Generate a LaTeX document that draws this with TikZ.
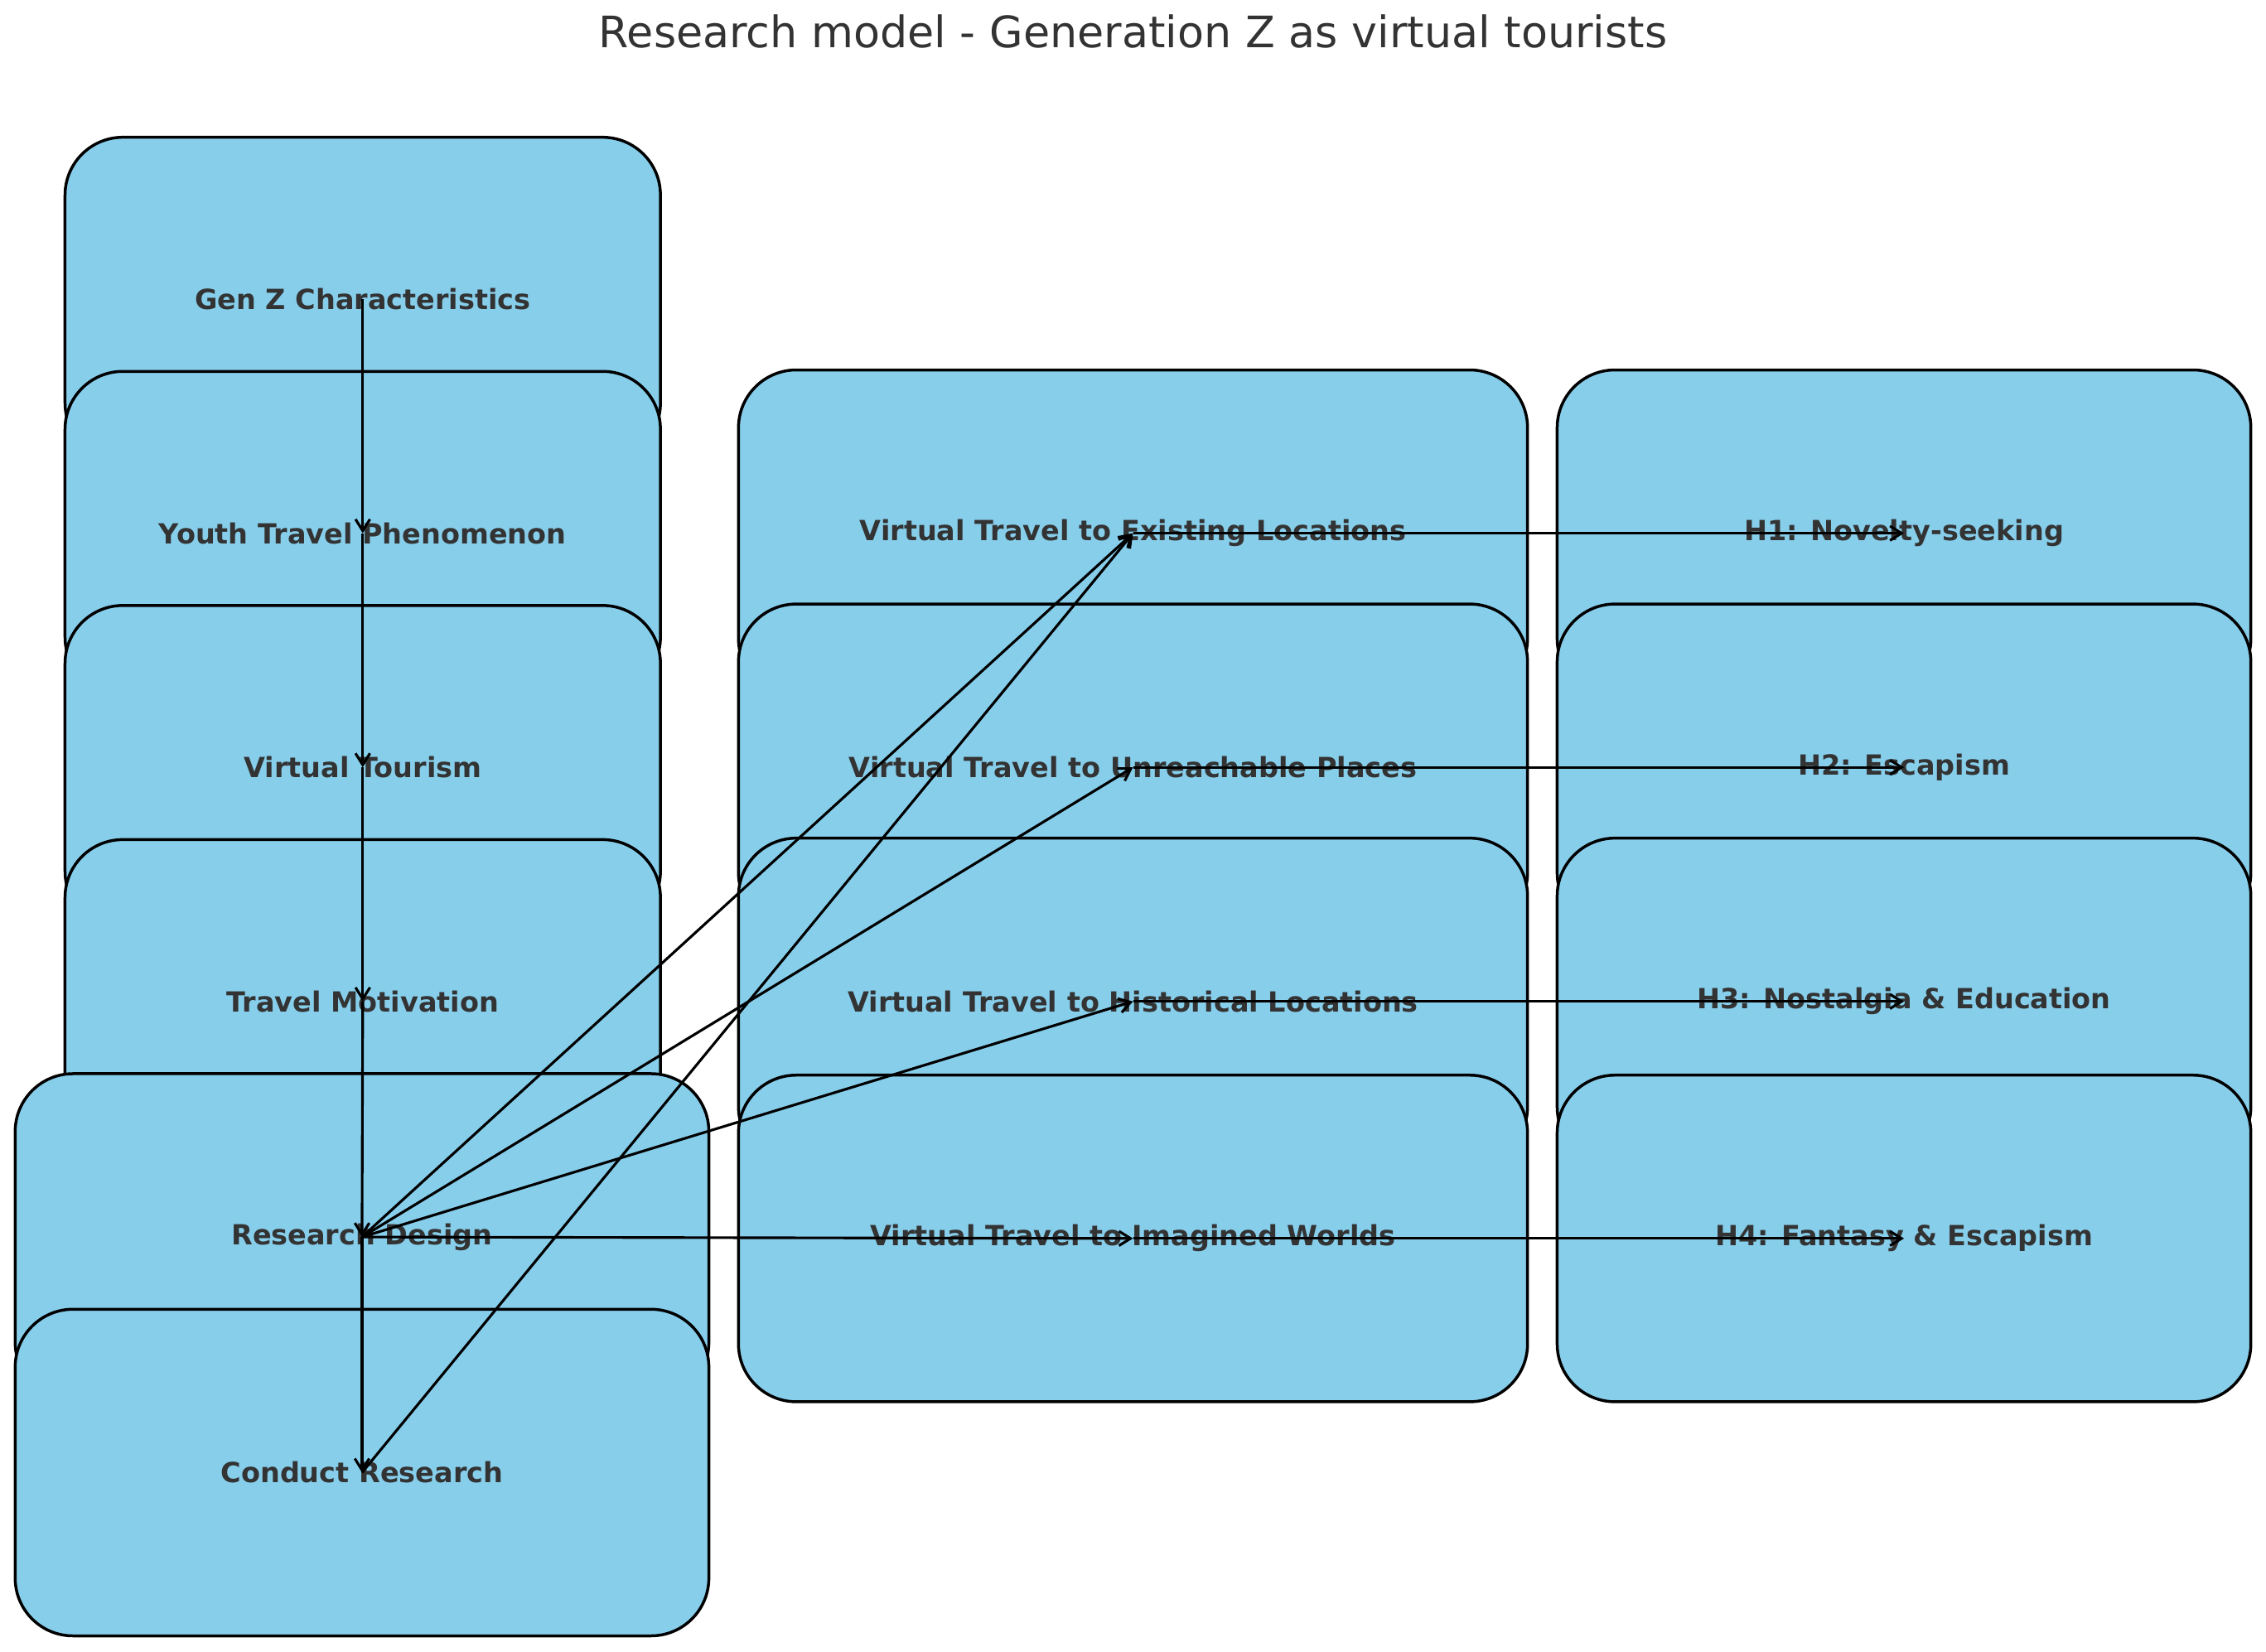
\documentclass[tikz,border=0pt]{standalone}
\usepackage{fontspec}
\setmainfont{DejaVu Sans}
\usetikzlibrary{arrows.meta}
\definecolor{sky}{HTML}{87CEEB}
\definecolor{txt}{HTML}{333333}
\begin{document}
\begin{tikzpicture}[x=0.5pt,y=-0.5pt,
  box/.style={draw=black,line width=1pt,fill=sky,rounded corners=20pt,inner sep=0pt,
    text=txt,font=\bfseries\fontsize{9.6}{11}\selectfont},
  narrow/.style={box,minimum width=206pt,minimum height=112pt},
  wide/.style={box,minimum width=240pt,minimum height=113pt},
  mid/.style={box,minimum width=273pt,minimum height=113pt},
  arr/.style={-{Straight Barb[length=4pt,width=5pt]},line width=0.9pt,black}]
\useasboundingbox (0,0) rectangle (1568,1143);
\node[text=txt,font=\fontsize{15}{18}\selectfont] (title) at (784,22) {Research model - Generation Z as virtual tourists};
\node[narrow] (g) at (251,207) {Gen Z Characteristics};
\node[narrow] (y) at (251,369) {Youth Travel Phenomenon};
\node[narrow] (v) at (251,531) {Virtual Tourism};
\node[narrow] (t) at (251,693) {Travel Motivation};
\node[wide] (r) at (250.5,856) {Research Design};
\node[wide] (c) at (250.5,1019) {Conduct Research};
\node[mid] (e) at (784,369) {Virtual Travel to Existing Locations};
\node[mid] (u) at (784,531) {Virtual Travel to Unreachable Places};
\node[mid] (h) at (784,693) {Virtual Travel to Historical Locations};
\node[mid] (i) at (784,857) {Virtual Travel to Imagined Worlds};
\node[wide] (h1) at (1317.5,369) {H1: Novelty-seeking};
\node[wide] (h2) at (1317.5,531) {H2: Escapism};
\node[wide] (h3) at (1317.5,693) {H3: Nostalgia \& Education};
\node[wide] (h4) at (1317.5,857) {H4: Fantasy \& Escapism};
\draw[arr] (g.center) -- (y.center);
\draw[arr] (y.center) -- (v.center);
\draw[arr] (v.center) -- (t.center);
\draw[arr] (t.center) -- (r.center);
\draw[arr] (r.center) -- (c.center);
\draw[arr] (r.center) -- (e.center);
\draw[arr] (r.center) -- (u.center);
\draw[arr] (r.center) -- (h.center);
\draw[arr] (r.center) -- (i.center);
\draw[arr] (c.center) -- (e.center);
\draw[arr] (e.center) -- (h1.center);
\draw[arr] (u.center) -- (h2.center);
\draw[arr] (h.center) -- (h3.center);
\draw[arr] (i.center) -- (h4.center);
\end{tikzpicture}
\end{document}
